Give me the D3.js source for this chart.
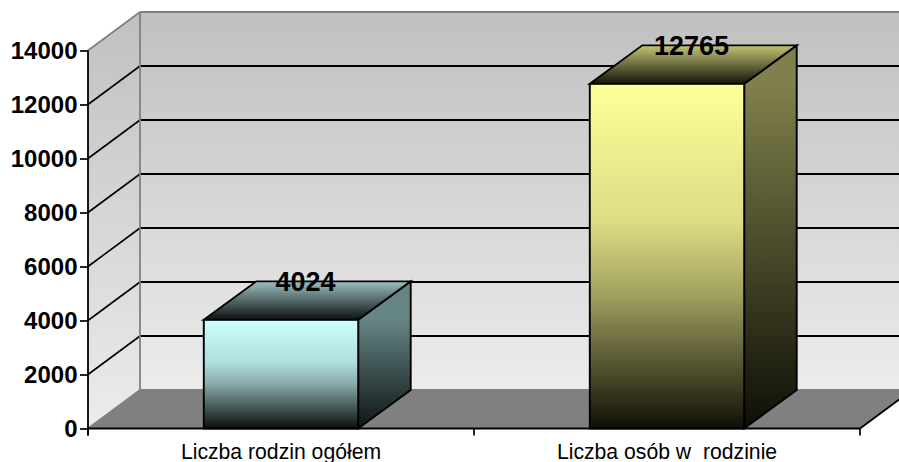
<!DOCTYPE html>
<html><head><meta charset="utf-8">
<script src="https://cdn.jsdelivr.net/npm/d3@7"></script>
<style>html,body{margin:0;padding:0;background:#fff;overflow:hidden}svg{display:block}</style>
</head><body><svg id="c" width="899" height="462"></svg>
<script>
const categories = ["Liczba rodzin ogółem", "Liczba osób w  rodzinie"];
const values = [4024, 12765];
const yTicks = [0, 2000, 4000, 6000, 8000, 10000, 12000, 14000];
const palette = [
  {front:["#ccffff","#b0dcdc","#85a6a6","#668080","#394747","#0a0d0d"], top:["#9cc0c0","#0c1010"], side:["#668585","#0e1414"]},
  {front:["#ffff99","#dcdc84","#a5a563","#7f7f4c","#484828","#100f08"], top:["#c4c476","#141408"], side:["#80804c","#0e0e06"]}
];
const frontOffsets = [0, 0.4, 0.6, 0.7, 0.85, 1];

const W = 899, H = 462, dx = 52, dy = 38.5;
const x0 = 88, x1 = 860;
const svg = d3.select("#c");
const y = d3.scaleLinear().domain([0, 14000]).range([428.5, 50.5]);
const x = d3.scaleBand().domain(categories).range([x0, x1]);
const barW = x.bandwidth() * 0.4;
const defs = svg.append("defs");
function grad(id, colors, a, b, offsets){
  const g = defs.append("linearGradient").attr("id", id).attr("gradientUnits","userSpaceOnUse")
    .attr("x1",0).attr("x2",0).attr("y1",a).attr("y2",b);
  colors.forEach((c,k) => g.append("stop").attr("offset", offsets ? offsets[k] : k/(colors.length-1)).attr("stop-color",c));
}
const poly = pts => pts.map(p => p.join(",")).join(" ");
const bottom = y(0), ceil = y(14000);

grad("wallBack", ["#c0c0c0", "#ececec"], ceil - dy, bottom - dy);
grad("wallLeft", ["#c0c0c0", "#ececec"], ceil - dy, bottom);
svg.append("rect").attr("x", x0 + dx).attr("y", ceil - dy).attr("width", W).attr("height", bottom - ceil)
  .attr("fill", "url(#wallBack)");
svg.append("polygon").attr("points", poly([[x0,ceil],[x0+dx,ceil-dy],[x0+dx,bottom-dy],[x0,bottom]]))
  .attr("fill", "url(#wallLeft)");
svg.append("polygon").attr("points", poly([[x0,bottom],[x0+dx,bottom-dy],[x1+dx,bottom-dy],[x1,bottom]]))
  .attr("fill", "#808080");

// gridlines
const grid = yTicks.filter(t => t > 0 && t < 14000);
svg.selectAll(".gb").data(grid).join("line").attr("x1", x0+dx).attr("x2", W)
  .attr("y1", d => y(d)-dy).attr("y2", d => y(d)-dy).attr("stroke","#000").attr("stroke-width",1.8);
svg.selectAll(".gl").data(grid).join("line").attr("x1", x0).attr("x2", x0+dx)
  .attr("y1", d => y(d)).attr("y2", d => y(d)-dy).attr("stroke","#000").attr("stroke-width",1.6);

// wall edges
const edge = (a,b,c,d) => svg.append("line").attr("x1",a).attr("y1",b).attr("x2",c).attr("y2",d)
  .attr("stroke","#808080").attr("stroke-width",1.8);
edge(x0+dx, ceil-dy, W, ceil-dy);
edge(x0, ceil, x0+dx, ceil-dy);
edge(x0+dx, ceil-dy, x0+dx, bottom-dy);
edge(x0, bottom, x0+dx, bottom-dy);
edge(x0+dx, bottom-dy, W, bottom-dy);

// bars
const bars = svg.selectAll(".bar").data(values).join("g");
const bdx = 52.5;
bars.each(function(v,i){
  const g = d3.select(this), c = categories[i];
  const l = x(c) + (x.bandwidth()-barW)/2, r = l + barW, t = y(v);
  grad("f"+i, palette[i].front, t, bottom, frontOffsets);
  grad("t"+i, palette[i].top, t-dy, t);
  grad("s"+i, palette[i].side, t, bottom);
  const st = s => s.attr("stroke","#000").attr("stroke-width",1.9).attr("stroke-linejoin","miter");
  g.append("polygon").attr("points",poly([[r,t],[r+bdx,t-dy],[r+bdx,bottom-dy],[r,bottom]])).attr("fill",`url(#s${i})`).call(st);
  g.append("polygon").attr("points",poly([[l,t],[l+bdx,t-dy],[r+bdx,t-dy],[r,t]])).attr("fill",`url(#t${i})`).call(st);
  g.append("rect").attr("x",l).attr("y",t).attr("width",barW).attr("height",bottom-t).attr("fill",`url(#f${i})`).call(st);
});

// axes
const font = "'Liberation Sans', Arial, sans-serif";
const ya = svg.append("g").attr("transform",`translate(${x0},0)`)
  .call(d3.axisLeft(y).tickValues(yTicks).tickFormat(d3.format("d")).tickSize(8).tickPadding(2.5));
ya.select(".domain").attr("d", `M0,${ceil}V${bottom+7}`).attr("stroke","#000").attr("stroke-width",1.8);
ya.selectAll("line").attr("stroke","#000").attr("stroke-width",1.7);
ya.selectAll("text").attr("font-family",font).attr("font-size",24).attr("font-weight","bold").attr("fill","#000");

const xa = svg.append("g").attr("transform",`translate(0,${bottom})`)
  .call(d3.axisBottom(x).tickSize(0).tickPadding(15.5));
xa.select(".domain").attr("d", `M${x0},0H${x1}`).attr("stroke","#000").attr("stroke-width",2);
xa.selectAll("text").attr("font-family",font).attr("font-size",21.2).attr("fill","#000")
  .style("white-space","pre");
svg.selectAll(".xt").data([x0, x0 + x.bandwidth(), x1]).join("line")
  .attr("x1",d=>d).attr("x2",d=>d).attr("y1",bottom).attr("y2",bottom+7).attr("stroke","#000").attr("stroke-width",1.7);
svg.append("line").attr("x1",x1).attr("y1",bottom).attr("x2",x1+dx).attr("y2",bottom-dy).attr("stroke","#000").attr("stroke-width",1.7);

// value labels
svg.selectAll(".vl").data(values).join("text")
  .attr("x",(d,i)=>x(categories[i])+x.bandwidth()/2+24.5)
  .attr("y",d=>y(d)-28.5).attr("text-anchor","middle")
  .attr("font-family",font).attr("font-size",27).attr("font-weight","bold").attr("fill","#000")
  .text(d=>d);
</script></body></html>
